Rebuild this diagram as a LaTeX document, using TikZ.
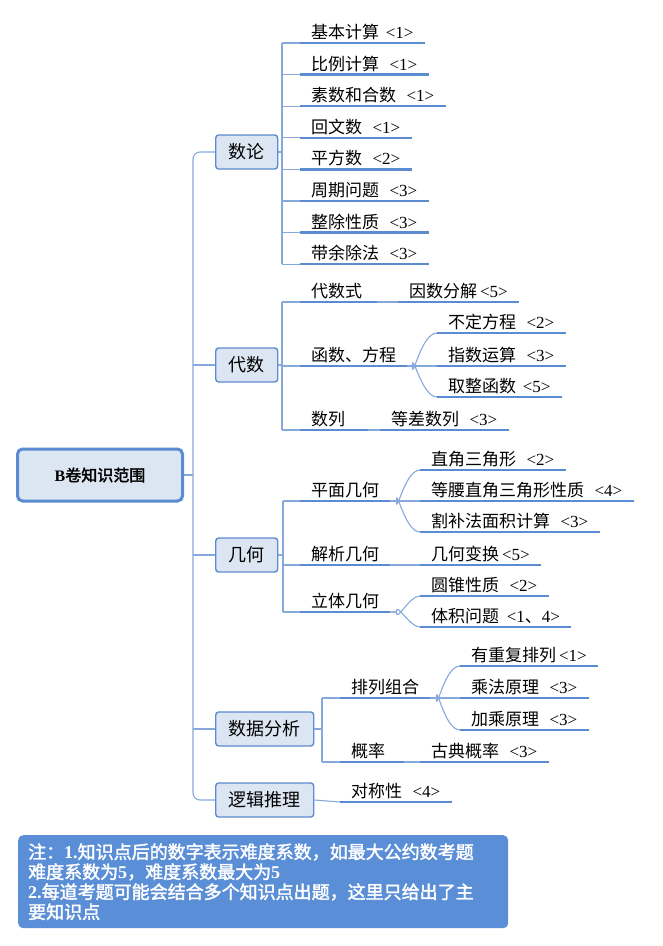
\documentclass[tikz,border=0pt]{standalone}
\usepackage{fontspec}
\setmainfont{Liberation Serif}
\newfontfamily\cjk{Noto Sans CJK SC}[AutoFakeBold=2]
\newcommand\dg[1]{\,{\rmfamily<#1>}}
\definecolor{lineblue}{HTML}{5B8BD0}
\definecolor{connblue}{HTML}{86A8DA}
\definecolor{boxfill}{HTML}{DCE6F2}
\definecolor{notefill}{HTML}{5A8ED6}
\tikzset{
  leaf/.style={inner xsep=11pt, inner ysep=3pt, anchor=south west, font=\cjk\fontsize{17}{18}\selectfont},
  uline/.style={lineblue, line width=2.4pt},
  conn/.style={connblue, line width=1.1pt},
  topic/.style={draw=lineblue, fill=boxfill, line width=1.4pt, rounded corners=3pt, minimum height=34pt,
    inner xsep=13pt, anchor=west, font=\cjk\fontsize{18}{19}\selectfont},
}
\begin{document}
\begin{tikzpicture}[x=1pt,y=-1pt]
\useasboundingbox (0,0) rectangle (663,946);
% root and main branches
\node[draw=lineblue, fill=boxfill, line width=3pt, rounded corners=5pt, minimum width=165pt, minimum height=52pt,
  font=\cjk\bfseries\fontsize{16}{17}\selectfont] (root) at (100,475) {{\rmfamily\bfseries B}卷知识范围};
\node[topic] (shulun) at (215,152) {数论};
\node[topic] (daishu) at (215,365) {代数};
\node[topic] (jihe) at (215,555) {几何};
\node[topic] (shuju) at (215,729) {数据分析};
\node[topic] (luoji) at (215,800) {逻辑推理};
\coordinate (trunk) at (193,0);
\draw[conn] (root.east) -- (root.east -| trunk);
\draw[conn, rounded corners=7pt] (shulun.west) -| (trunk |- root.east) |- (luoji.west);
\foreach \b in {daishu,jihe,shuju} \draw[conn] (\b.west -| trunk) -- (\b.west);
% number theory
\coordinate (sp1) at (282,0);
\foreach \t [count=\i] in {基本计算 \dg{1}, 比例计算 \ \dg{1}, 素数和合数 \ \dg{1}, 回文数 \ \dg{1},
    平方数 \ \dg{2}, 周期问题 \ \dg{3}, 整除性质 \ \dg{3}, 带余除法 \ \dg{3}} {
  \node[leaf] (s\i) at (300,{43+31.6*(\i-1)}) {\t};
  \draw[conn] (s\i.south west -| sp1) -- (s\i.south west);
  \draw[uline] (s\i.south west) -- (s\i.south east);
}
\draw[conn] (shulun.east) -- (shulun.east -| sp1);
\draw[conn] (s1.south west -| sp1) -- (s8.south west -| sp1);
% algebra
\coordinate (sp2) at (282,0);
\node[leaf] (dss) at (300,302) {代数式\ \ };
\node[leaf] (hsfc) at (300,366) {函数、方程\ };
\node[leaf] (shl) at (300,430) {数列\ \ \ \ };
\node[leaf] (ysfj) at (398,302) {因数分解\dg{5}};
\node[leaf] (bdfc) at (437,333) {不定方程 \ \dg{2}};
\node[leaf] (zsys) at (437,366) {指数运算 \ \dg{3}};
\node[leaf] (qzhs) at (437,397) {取整函数 \dg{5}};
\node[leaf] (dcsl) at (380,430) {等差数列 \ \dg{3}};
\draw[conn] (daishu.east) -- (daishu.east -| sp2);
\draw[conn] (dss.south west -| sp2) -- (shl.south west -| sp2);
\foreach \n in {dss,hsfc,shl} \draw[conn] (\n.south west -| sp2) -- (\n.south west);
\draw[conn] (dss.south east) -- (ysfj.south west);
\draw[conn] (shl.south east) -- (dcsl.south west);
\draw[conn] (hsfc.south east) -- (zsys.south west);
\draw[conn] (hsfc.south east) -- ++(5,0) to[out=-90,in=180] (bdfc.south west);
\draw[conn] (hsfc.south east) -- ++(5,0) to[out=90,in=180] (qzhs.south west);
\foreach \n in {dss,hsfc,shl,ysfj,bdfc,zsys,qzhs,dcsl} \draw[uline] (\n.south west) -- (\n.south east);
% geometry
\coordinate (sp3) at (283,0);
\node[leaf] (pmjh) at (300,501) {平面几何\ };
\node[leaf] (jxjh) at (300,565) {解析几何\ };
\node[leaf] (ltjh) at (300,612) {立体几何\ };
\node[leaf] (zjsj) at (420,470) {直角三角形 \ \dg{2}};
\node[leaf] (dyzj) at (420,501) {等腰直角三角形性质 \ \dg{4}};
\node[leaf] (gbf) at (420,532) {割补法面积计算 \ \dg{3}};
\node[leaf] (jhbh) at (420,565) {几何变换\dg{5}};
\node[leaf] (yzxz) at (420,596) {圆锥性质 \ \dg{2}};
\node[leaf] (tjwt) at (420,627) {体积问题 \ {\rmfamily<1}、{\rmfamily 4>}};
\draw[conn] (jihe.east) -- (jihe.east -| sp3);
\draw[conn] (pmjh.south west -| sp3) -- (ltjh.south west -| sp3);
\foreach \n in {pmjh,jxjh,ltjh} \draw[conn] (\n.south west -| sp3) -- (\n.south west);
\draw[conn] (pmjh.south east) -- (dyzj.south west);
\draw[conn] (pmjh.south east) -- ++(6,0) to[out=-90,in=180] (zjsj.south west);
\draw[conn] (pmjh.south east) -- ++(6,0) to[out=90,in=180] (gbf.south west);
\draw[conn] (jxjh.south east) -- (jhbh.south west);
\draw[conn] (ltjh.south east) -- ++(6,0) to[out=-90,in=180] (yzxz.south west);
\draw[conn] (ltjh.south east) -- ++(6,0) to[out=90,in=180] (tjwt.south west);
\foreach \n in {pmjh,jxjh,ltjh,zjsj,dyzj,gbf,jhbh,yzxz,tjwt} \draw[uline] (\n.south west) -- (\n.south east);
% data analysis
\coordinate (sp4) at (322,0);
\node[leaf] (plzh) at (340,698) {排列组合\ };
\node[leaf] (gl) at (340,762) {概率\ \ \ };
\node[leaf] (ycf) at (460,666) {有重复排列\dg{1}};
\node[leaf] (cfyl) at (460,698) {乘法原理 \ \dg{3}};
\node[leaf] (jcyl) at (460,730) {加乘原理 \ \dg{3}};
\node[leaf] (gdgl) at (420,762) {古典概率 \ \dg{3}};
\draw[conn] (shuju.east) -- (shuju.east -| sp4);
\draw[conn] (plzh.south west -| sp4) -- (gl.south west -| sp4);
\foreach \n in {plzh,gl} \draw[conn] (\n.south west -| sp4) -- (\n.south west);
\draw[conn] (plzh.south east) -- (cfyl.south west);
\draw[conn] (plzh.south east) -- ++(6,0) to[out=-90,in=180] (ycf.south west);
\draw[conn] (plzh.south east) -- ++(6,0) to[out=90,in=180] (jcyl.south west);
\draw[conn] (gl.south east) -- (gdgl.south west);
\foreach \n in {plzh,gl,ycf,cfyl,jcyl,gdgl} \draw[uline] (\n.south west) -- (\n.south east);
% logic
\node[leaf] (dcx) at (340,802) {对称性 \ \dg{4}};
\draw[conn] (luoji.east) -- (dcx.south west);
\draw[uline] (dcx.south west) -- (dcx.south east);
% note
\node[fill=notefill, rounded corners=5pt, anchor=north west, minimum width=489pt, minimum height=93pt,
  text width=470pt, align=left, text=white, inner xsep=10pt,
  font=\cjk\bfseries\fontsize{18}{20}\selectfont] (note) at (18,835)
  {注：{\rmfamily\bfseries 1.}知识点后的数字表示难度系数，如最大公约数考题\\
   难度系数为{\rmfamily\bfseries 5}，难度系数最大为{\rmfamily\bfseries 5}\\
   {\rmfamily\bfseries 2.}每道考题可能会结合多个知识点出题，这里只给出了主\\
   要知识点};
\end{tikzpicture}
\end{document}
